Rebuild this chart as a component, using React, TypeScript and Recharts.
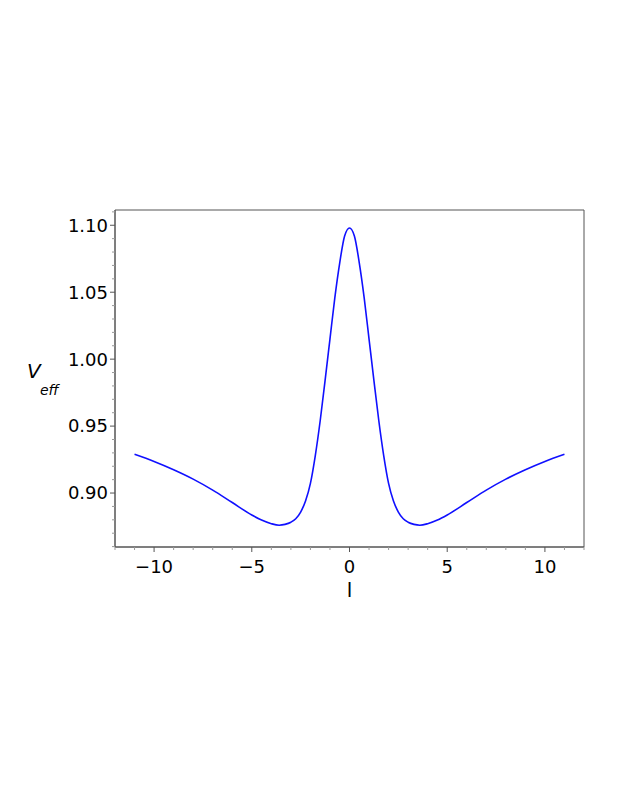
import React from 'react';
import { LineChart, Line, XAxis, YAxis, ReferenceArea } from 'recharts';

const lValues = [-11, -10, -9, -8, -7, -6, -5, -4.5, -4, -3.6, -3.3, -3, -2.75, -2.5, -2.25, -2, -1.75, -1.5, -1.25, -1, -0.75, -0.5, -0.25, 0,
  0.25, 0.5, 0.75, 1, 1.25, 1.5, 1.75, 2, 2.25, 2.5, 2.75, 3, 3.3, 3.6, 4, 4.5, 5, 6, 7, 8, 9, 10, 11];
const vValues = [0.9289, 0.9236, 0.9174, 0.9104, 0.9022, 0.8929, 0.8836, 0.8798, 0.8771, 0.8760, 0.8766, 0.8782, 0.8808, 0.8858, 0.8940, 0.9072, 0.9280, 0.9540, 0.9840, 1.0150, 1.0460, 1.0720, 1.0920, 1.0980,
  1.0920, 1.0720, 1.0460, 1.0150, 0.9840, 0.9540, 0.9280, 0.9072, 0.8940, 0.8858, 0.8808, 0.8782, 0.8766, 0.8760, 0.8771, 0.8798, 0.8836, 0.8929, 0.9022, 0.9104, 0.9174, 0.9236, 0.9289];

const xTicks = [-12, -11, -10, -9, -8, -7, -6, -5, -4, -3, -2, -1, 0, 1, 2, 3, 4, 5, 6, 7, 8, 9, 10, 11, 12];
const xMajor = [-10, -5, 0, 5, 10];
const yTicks = [0.86, 0.87, 0.88, 0.89, 0.90, 0.91, 0.92, 0.93, 0.94, 0.95, 0.96, 0.97, 0.98, 0.99, 1.00, 1.01, 1.02, 1.03, 1.04, 1.05, 1.06, 1.07, 1.08, 1.09, 1.10, 1.11];
const yMajor = [0.90, 0.95, 1.00, 1.05, 1.10];

const xDomain: [number, number] = [-12, 12];
const yDomain: [number, number] = [0.8597, 1.1114];

const data = lValues.map((l, i) => ({ l, v: vValues[i] }));

const FONT = 'DejaVu Sans, sans-serif';

const XTick = (props: any) => {
  const { x, y, payload } = props;
  const val = payload.value;
  const major = xMajor.some((m) => Math.abs(m - val) < 1e-9);
  return (
    <g>
      <line x1={x} x2={x} y1={y} y2={y + (major ? 5 : 3)} stroke={major ? '#555' : '#999'} strokeWidth={1} />
      {major && (
        <text x={x} y={y + 13} dy="0.71em" textAnchor="middle" fill="#000" fontSize={18} fontFamily={FONT}>
          {val < 0 ? '\u2212' + Math.abs(val) : String(val)}
        </text>
      )}
    </g>
  );
};

const YTick = (props: any) => {
  const { x, y, payload } = props;
  const val = payload.value;
  const major = yMajor.some((m) => Math.abs(m - val) < 1e-9);
  return (
    <g>
      <line x1={x} x2={x - (major ? 5 : 3)} y1={y} y2={y} stroke={major ? '#555' : '#999'} strokeWidth={1} />
      {major && (
        <text x={x - 7} y={y} dy="0.355em" textAnchor="end" fill="#000" fontSize={18} fontFamily={FONT}>
          {val.toFixed(2)}
        </text>
      )}
    </g>
  );
};

const YLabel = (props: any) => {
  const vb = props.viewBox || { x: 0, y: 0 };
  return (
    <text x={vb.x + 19} y={vb.y + 168} fill="#000" fontFamily={FONT} fontStyle="italic">
      <tspan fontSize={20}>V</tspan>
      <tspan fontSize={14} x={vb.x + 32} dy={17}>eff</tspan>
    </text>
  );
};

const XLabel = (props: any) => {
  const vb = props.viewBox || { x: 0, y: 0, width: 0 };
  return (
    <text x={vb.x + vb.width / 2} y={vb.y + 50} textAnchor="middle" fill="#000" fontSize={20} fontFamily={FONT}>
      l
    </text>
  );
};

export default function App() {
  return (
    <LineChart
      width={610}
      height={700}
      data={data}
      margin={{ top: 202, right: 34, left: 0, bottom: 101 }}
    >
      <XAxis
        dataKey="l"
        type="number"
        domain={xDomain}
        ticks={xTicks}
        interval={0}
        allowDataOverflow
        tickLine={false}
        tickSize={0}
        tickMargin={0}
        axisLine={{ stroke: '#555' }}
        tick={<XTick />}
        height={60}
        label={<XLabel />}
      />
      <YAxis
        type="number"
        domain={yDomain}
        ticks={yTicks}
        interval={0}
        allowDataOverflow
        tickLine={false}
        tickSize={0}
        tickMargin={0}
        axisLine={{ stroke: '#555' }}
        tick={<YTick />}
        width={107}
        label={<YLabel />}
      />
      <ReferenceArea x1={-12} x2={12} y1={yDomain[0]} y2={yDomain[1]} fill="none" stroke="#555" strokeWidth={1} ifOverflow="visible" />
      <Line
        type="monotone"
        dataKey="v"
        stroke="#1010ff"
        strokeWidth={1.6}
        dot={false}
        isAnimationActive={false}
      />
    </LineChart>
  );
}
